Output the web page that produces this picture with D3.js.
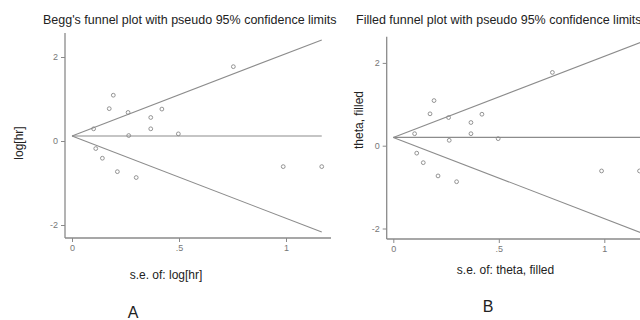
<!DOCTYPE html>
<html><head><meta charset="utf-8">
<script src="https://cdn.jsdelivr.net/npm/d3@7"></script>
<style>body{margin:0;background:#fff}svg{display:block;font-family:"Liberation Sans",Arial,sans-serif}</style>
</head><body><svg id="c" width="640" height="320"></svg>
<script>
// Study standard errors and log hazard ratios (same in both panels; no studies filled)
const se = [0.754,0.193,0.174,0.262,0.420,0.368,0.368,0.101,0.265,0.497,0.111,0.142,0.212,0.300,0.987,1.167];
const logHR = [1.77,1.09,0.77,0.68,0.76,0.56,0.29,0.29,0.13,0.17,-0.18,-0.41,-0.73,-0.87,-0.61,-0.61];
const thetaA = 0.12;   // pooled estimate, Begg's plot
const thetaB = 0.20;   // pooled estimate, filled plot
const xTicks = [0, 0.5, 1];
const xTickLabels = ["0", ".5", "1"];
const yTicks = [-2, 0, 2];
const titles = ["Begg's funnel plot with pseudo 95% confidence limits", "Filled funnel plot with pseudo 95% confidence limits"];
const yTitles = ["log[hr]", "theta, filled"];
const xTitles = ["s.e. of: log[hr]", "s.e. of: theta, filled"];
const letters = ["A", "B"];

const svg = d3.select("#c");
const defs = svg.append("defs");
defs.append("clipPath").attr("id","clipA").append("rect").attr("x",0).attr("y",0).attr("width",337).attr("height",320);

const panels = [
  {theta: thetaA, xr:[65,331], xd:[-0.034,1.209], x0px:72, x1px:286, y0px:141, y2px:57, yb:238, yt:33,
   title:[43,24], xt:[166,279], yl:[19,143], let:[133,318], clip:"clipA", lineEnd:1.167},
  {theta: thetaB, x0px:393.3, x1px:604.3, y0px:145.7, y2px:62.9, yb:239, yt:36.7, axL:386.7,
   title:[356,24], xt:[505.5,274], yl:[359,120], let:[488,312], clip:null, lineEnd:1.2}
];

panels.forEach((p,i)=>{
  const x = d3.scaleLinear().domain([0,1]).range([p.x0px,p.x1px]);
  const y = d3.scaleLinear().domain([0,2]).range([p.y0px,p.y2px]);
  const axisLeft = i===0 ? 65 : p.axL;
  const axisRight = i===0 ? 331 : 660;
  const g = svg.append("g");
  if(p.clip) g.attr("clip-path","url(#"+p.clip+")");

  // title
  g.append("text").attr("x",p.title[0]).attr("y",p.title[1]).attr("font-size",12.5).attr("fill","#222").text(titles[i]);

  // y axis
  const ya = d3.axisLeft(y).tickValues(yTicks).tickSize(4).tickPadding(3).tickFormat(d=>d===0?"0":String(d));
  const gy = g.append("g").attr("transform",`translate(${axisLeft},0)`).call(ya);
  gy.select(".domain").remove();
  gy.append("line").attr("x1",0).attr("x2",0).attr("y1",p.yt).attr("y2",p.yb).attr("stroke","#8a8a8a").attr("stroke-width",1.3);
  gy.selectAll(".tick line").attr("stroke","#8a8a8a");
  gy.selectAll(".tick text").attr("fill","#777").attr("font-size",9).attr("font-family","Liberation Sans, Arial, sans-serif");

  // x axis
  const xa = d3.axisBottom(x).tickValues(xTicks).tickSize(4).tickPadding(3).tickFormat((d,k)=>xTickLabels[k]);
  const gx = g.append("g").attr("transform",`translate(0,${p.yb})`).call(xa);
  gx.select(".domain").remove();
  gx.append("line").attr("x1",axisLeft).attr("x2",axisRight).attr("y1",0).attr("y2",0).attr("stroke","#8a8a8a").attr("stroke-width",1.3);
  gx.selectAll(".tick line").attr("stroke","#8a8a8a");
  gx.selectAll(".tick text").attr("fill","#777").attr("font-size",9).attr("font-family","Liberation Sans, Arial, sans-serif");

  // funnel lines
  const sMax = p.lineEnd;
  const lines = [[p.theta,p.theta+1.96*sMax],[p.theta,p.theta],[p.theta,p.theta-1.96*sMax]];
  lines.forEach(l=>{
    g.append("line").attr("x1",x(0)).attr("y1",y(l[0])).attr("x2",x(sMax)).attr("y2",y(l[0]===l[1]?l[1]:l[1]))
      .attr("stroke","#8c8c8c").attr("stroke-width",1.1);
  });

  // points
  g.selectAll("circle.pt").data(se.map((s,k)=>[s,logHR[k]])).enter().append("circle")
    .attr("cx",d=>x(d[0])).attr("cy",d=>y(d[1])).attr("r",1.9)
    .attr("fill","none").attr("stroke","#888").attr("stroke-width",0.9);

  // axis titles
  g.append("text").attr("x",p.xt[0]).attr("y",p.xt[1]).attr("text-anchor","middle").attr("font-size",12).attr("fill","#222").text(xTitles[i]);
  g.append("text").attr("transform",`translate(${p.yl[0]+4},${p.yl[1]}) rotate(-90)`).attr("text-anchor","middle").attr("font-size",12).attr("fill","#222").text(yTitles[i]);
  svg.append("text").attr("x",p.let[0]).attr("y",p.let[1]).attr("text-anchor","middle").attr("font-size",16).attr("fill","#222").text(letters[i]);
});
</script></body></html>
